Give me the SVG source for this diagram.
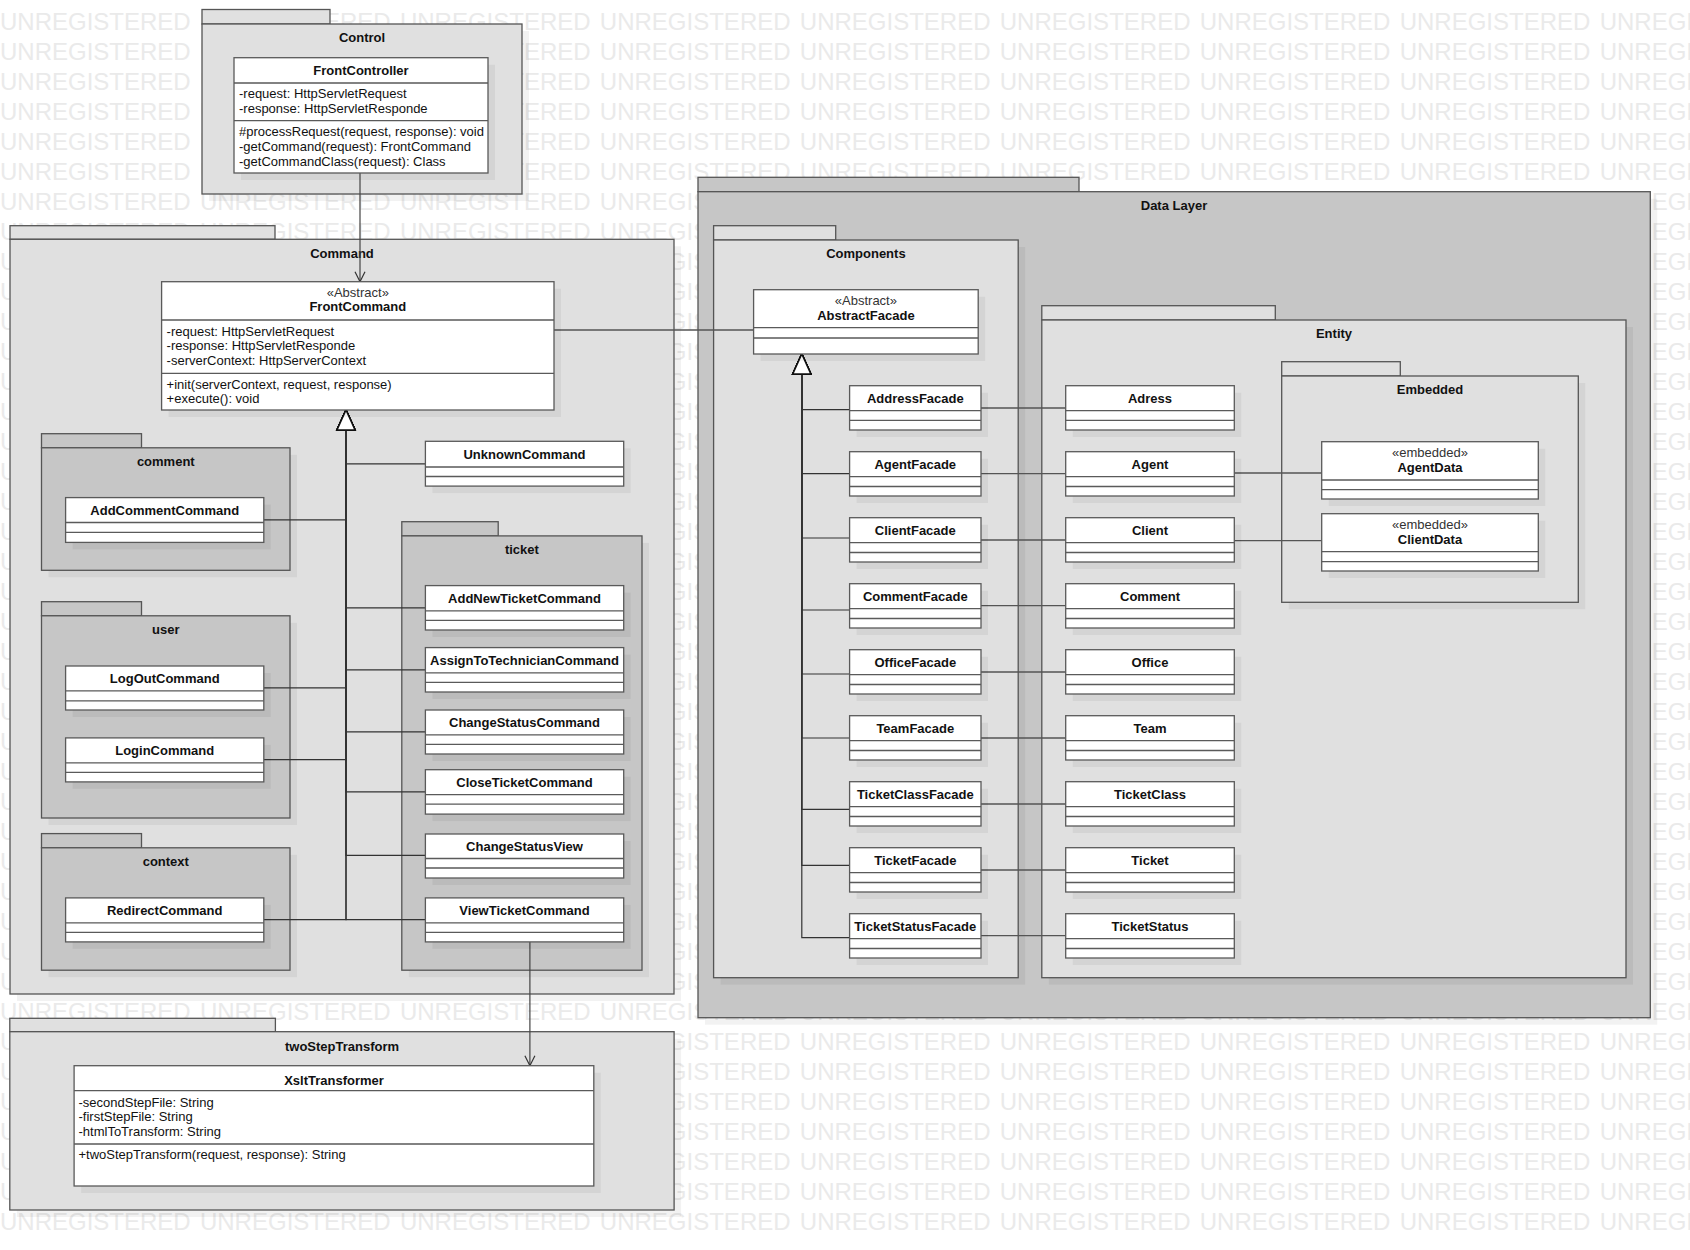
<svg xmlns="http://www.w3.org/2000/svg" xmlns:xlink="http://www.w3.org/1999/xlink" width="1690" height="1250" viewBox="0 0 1690 1250">
  <style>
    .wm { font-family: "Liberation Sans", Arial, sans-serif; font-size: 24px; fill: #eaeaea; word-spacing: 2.6px; }
    .pkg { fill: #e0e0e0; stroke: #555; stroke-width: 1.3; }
    .pkg.dk { fill: #c6c6c6; }
    .sh { fill: #000; fill-opacity: 0.05; stroke: none; }
    .cls { fill: #fff; stroke: #5a5a5a; stroke-width: 1.3; }
    .sep { stroke: #5a5a5a; stroke-width: 1.3; fill: none; }
    .t { font-family: "Liberation Sans", Arial, sans-serif; font-size: 13px; fill: #111; }
    .b { font-weight: bold; }
    .c { text-anchor: middle; }
    .st { fill: #333; }
    .edge { fill: none; stroke: #555; stroke-width: 1.3; }
    .gen { fill: none; stroke: #333; stroke-width: 1.2; marker-end: url(#tri); }
    .dep { fill: none; stroke: #444; stroke-width: 1.2; marker-end: url(#open); }
  </style>
  <defs>
    <marker id="tri" viewBox="0 0 20 18" refX="20" refY="9" markerWidth="20" markerHeight="18" orient="auto" markerUnits="userSpaceOnUse" overflow="visible">
      <path d="M0,0 L20,9 L0,18 Z" fill="#fff" stroke="#111" stroke-width="1.5"/>
    </marker>
    <marker id="open" viewBox="0 0 10 10" refX="10" refY="5" markerWidth="10" markerHeight="10" orient="auto" markerUnits="userSpaceOnUse" overflow="visible">
      <path d="M0,0 L10,5 L0,10" fill="none" stroke="#333" stroke-width="1.2"/>
    </marker>
    <text id="wmrow" class="wm" x="0" y="0">UNREGISTERED UNREGISTERED UNREGISTERED UNREGISTERED UNREGISTERED UNREGISTERED UNREGISTERED UNREGISTERED UNREGISTERED</text>
  </defs>

  <rect width="1690" height="1250" fill="#fff"/>

  <!-- evaluation watermark rows -->
  <g id="watermark">
    <use xlink:href="#wmrow" y="30"/><use xlink:href="#wmrow" y="60"/><use xlink:href="#wmrow" y="90"/><use xlink:href="#wmrow" y="120"/>
    <use xlink:href="#wmrow" y="150"/><use xlink:href="#wmrow" y="180"/><use xlink:href="#wmrow" y="210"/><use xlink:href="#wmrow" y="240"/>
    <use xlink:href="#wmrow" y="270"/><use xlink:href="#wmrow" y="300"/><use xlink:href="#wmrow" y="330"/><use xlink:href="#wmrow" y="360"/>
    <use xlink:href="#wmrow" y="390"/><use xlink:href="#wmrow" y="420"/><use xlink:href="#wmrow" y="450"/><use xlink:href="#wmrow" y="480"/>
    <use xlink:href="#wmrow" y="510"/><use xlink:href="#wmrow" y="540"/><use xlink:href="#wmrow" y="570"/><use xlink:href="#wmrow" y="600"/>
    <use xlink:href="#wmrow" y="630"/><use xlink:href="#wmrow" y="660"/><use xlink:href="#wmrow" y="690"/><use xlink:href="#wmrow" y="720"/>
    <use xlink:href="#wmrow" y="750"/><use xlink:href="#wmrow" y="780"/><use xlink:href="#wmrow" y="810"/><use xlink:href="#wmrow" y="840"/>
    <use xlink:href="#wmrow" y="870"/><use xlink:href="#wmrow" y="900"/><use xlink:href="#wmrow" y="930"/><use xlink:href="#wmrow" y="960"/>
    <use xlink:href="#wmrow" y="990"/><use xlink:href="#wmrow" y="1020"/><use xlink:href="#wmrow" y="1050"/><use xlink:href="#wmrow" y="1080"/>
    <use xlink:href="#wmrow" y="1110"/><use xlink:href="#wmrow" y="1140"/><use xlink:href="#wmrow" y="1170"/><use xlink:href="#wmrow" y="1200"/>
    <use xlink:href="#wmrow" y="1230"/>
  </g>

  <!-- packages: shadow, tab, body, name -->
  <g id="packages">
    <g id="pkg-control">
      <rect class="sh" x="209" y="31" width="320" height="170"/>
      <rect class="pkg" x="202" y="9.5" width="128" height="14.5"/>
      <rect class="pkg" x="202" y="24" width="320" height="170"/>
      <text class="t b c" x="362" y="42">Control</text>
    </g>
    <g id="pkg-command">
      <rect class="sh" x="17" y="246.3" width="664" height="754.7"/>
      <rect class="pkg" x="10" y="225.7" width="265" height="13.6"/>
      <rect class="pkg" x="10" y="239.3" width="664" height="754.7"/>
      <text class="t b c" x="342" y="258">Command</text>
    </g>
    <g id="pkg-comment">
      <rect class="sh" x="48.5" y="454.8" width="248.5" height="122.5"/>
      <rect class="pkg dk" x="41.5" y="433.7" width="100" height="14.1"/>
      <rect class="pkg dk" x="41.5" y="447.8" width="248.5" height="122.5"/>
      <text class="t b c" x="165.8" y="466">comment</text>
    </g>
    <g id="pkg-user">
      <rect class="sh" x="48.5" y="622.8" width="248.5" height="202.2"/>
      <rect class="pkg dk" x="41.5" y="601.7" width="100" height="14.1"/>
      <rect class="pkg dk" x="41.5" y="615.8" width="248.5" height="202.2"/>
      <text class="t b c" x="165.8" y="634">user</text>
    </g>
    <g id="pkg-context">
      <rect class="sh" x="48.5" y="854.8" width="248.5" height="122.4"/>
      <rect class="pkg dk" x="41.5" y="833.6" width="100" height="14.2"/>
      <rect class="pkg dk" x="41.5" y="847.8" width="248.5" height="122.4"/>
      <text class="t b c" x="165.8" y="866">context</text>
    </g>
    <g id="pkg-ticket">
      <rect class="sh" x="408.8" y="542.9" width="240.2" height="434.3"/>
      <rect class="pkg dk" x="401.8" y="521.7" width="96.4" height="14.2"/>
      <rect class="pkg dk" x="401.8" y="535.9" width="240.2" height="434.3"/>
      <text class="t b c" x="521.9" y="554">ticket</text>
    </g>
    <g id="pkg-twoStepTransform">
      <rect class="sh" x="16.8" y="1038.7" width="664.3" height="178.3"/>
      <rect class="pkg" x="9.8" y="1018.3" width="265.6" height="13.4"/>
      <rect class="pkg" x="9.8" y="1031.7" width="664.3" height="178.3"/>
      <text class="t b c" x="342" y="1050.6">twoStepTransform</text>
    </g>
    <g id="pkg-datalayer">
      <rect class="sh" x="705" y="198.7" width="952.3" height="826"/>
      <rect class="pkg dk" x="698" y="177.3" width="381" height="14.4"/>
      <rect class="pkg dk" x="698" y="191.7" width="952.3" height="826"/>
      <text class="t b c" x="1174" y="209.6">Data Layer</text>
    </g>
    <g id="pkg-components">
      <rect class="sh" x="720.6" y="247" width="304.6" height="737.7"/>
      <rect class="pkg" x="713.6" y="225.7" width="122.1" height="14.3"/>
      <rect class="pkg" x="713.6" y="240" width="304.6" height="737.7"/>
      <text class="t b c" x="865.9" y="258">Components</text>
    </g>
    <g id="pkg-entity">
      <rect class="sh" x="1048.8" y="327" width="584.2" height="657.7"/>
      <rect class="pkg" x="1041.8" y="305.7" width="233.5" height="14.3"/>
      <rect class="pkg" x="1041.8" y="320" width="584.2" height="657.7"/>
      <text class="t b c" x="1334" y="338">Entity</text>
    </g>
    <g id="pkg-embedded">
      <rect class="sh" x="1288.7" y="383" width="296.6" height="226.3"/>
      <rect class="pkg" x="1281.7" y="361.7" width="118.6" height="14.3"/>
      <rect class="pkg" x="1281.7" y="376" width="296.6" height="226.3"/>
      <text class="t b c" x="1430" y="394">Embedded</text>
    </g>
  </g>

  <!-- connectors -->
  <g id="connectors">
    <!-- dependencies -->
    <path class="dep" d="M360,173 V281.7"/>
    <path class="dep" d="M529.9,941.9 V1065.7"/>
    <!-- FrontCommand uses AbstractFacade -->
    <path class="edge" d="M554,330 H753.6"/>
    <!-- facades to entities -->
    <path class="edge" d="M981,408 H1065.7"/>
    <path class="edge" d="M981,473.7 H1065.7"/>
    <path class="edge" d="M981,540 H1065.7"/>
    <path class="edge" d="M981,605.7 H1065.7"/>
    <path class="edge" d="M981,672 H1065.7"/>
    <path class="edge" d="M981,738 H1065.7"/>
    <path class="edge" d="M981,804 H1065.7"/>
    <path class="edge" d="M981,870 H1065.7"/>
    <path class="edge" d="M981,935.7 H1065.7"/>
    <!-- entities to embedded data -->
    <path class="edge" d="M1234.3,473 H1321.7"/>
    <path class="edge" d="M1234.3,540.7 H1321.7"/>
    <!-- command subclasses generalize FrontCommand -->
    <path class="gen" d="M263.8,919.7 H346 V410"/>
    <path class="gen" d="M425.4,919.7 H346 V410"/>
    <path class="gen" d="M425.4,855.4 H346 V410"/>
    <path class="gen" d="M425.4,791.9 H346 V410"/>
    <path class="gen" d="M263.8,759.7 H346 V410"/>
    <path class="gen" d="M425.4,731.8 H346 V410"/>
    <path class="gen" d="M263.8,687.8 H346 V410"/>
    <path class="gen" d="M425.4,669.8 H346 V410"/>
    <path class="gen" d="M425.4,607.8 H346 V410"/>
    <path class="gen" d="M263.8,519.8 H346 V410"/>
    <path class="gen" d="M425.4,463.9 H346 V410"/>
    <!-- facades generalize AbstractFacade -->
    <path class="gen" d="M849.6,937.7 H801.8 V354"/>
    <path class="gen" d="M849.6,865.3 H801.8 V354"/>
    <path class="gen" d="M849.6,809.3 H801.8 V354"/>
    <path class="gen" d="M849.6,738 H801.8 V354"/>
    <path class="gen" d="M849.6,674 H801.8 V354"/>
    <path class="gen" d="M849.6,610 H801.8 V354"/>
    <path class="gen" d="M849.6,538 H801.8 V354"/>
    <path class="gen" d="M849.6,473.7 H801.8 V354"/>
    <path class="gen" d="M849.6,409.7 H801.8 V354"/>
  </g>

  <!-- classes -->
  <g id="classes">
    <g id="FrontController">
      <rect class="sh" x="241" y="64.7" width="254" height="115.3"/>
      <rect class="cls" x="234" y="57.7" width="254" height="115.3"/>
      <path class="sep" d="M234,83 H488 M234,120.7 H488"/>
      <text class="t b c" x="361" y="75">FrontController</text>
      <text class="t" x="239" y="98.3">-request: HttpServletRequest</text>
      <text class="t" x="239" y="113.3">-response: HttpServletResponde</text>
      <text class="t" x="239" y="136.3">#processRequest(request, response): void</text>
      <text class="t" x="239" y="151.3">-getCommand(request): FrontCommand</text>
      <text class="t" x="239" y="166.3">-getCommandClass(request): Class</text>
    </g>
    <g id="FrontCommand">
      <rect class="sh" x="168.6" y="288.7" width="392.4" height="128.3"/>
      <rect class="cls" x="161.6" y="281.7" width="392.4" height="128.3"/>
      <path class="sep" d="M161.6,320 H554 M161.6,373.3 H554"/>
      <text class="t c st" x="357.8" y="297">«Abstract»</text>
      <text class="t b c" x="357.8" y="311.3">FrontCommand</text>
      <text class="t" x="166.6" y="335.6">-request: HttpServletRequest</text>
      <text class="t" x="166.6" y="350.4">-response: HttpServletResponde</text>
      <text class="t" x="166.6" y="365.3">-serverContext: HttpServerContext</text>
      <text class="t" x="166.6" y="388.6">+init(serverContext, request, response)</text>
      <text class="t" x="166.6" y="403.3">+execute(): void</text>
    </g>
    <g id="AddCommentCommand">
      <rect class="sh" x="72.6" y="504.6" width="198.2" height="44.8"/>
      <rect class="cls" x="65.6" y="497.6" width="198.2" height="44.8"/>
      <path class="sep" d="M65.6,522.5 H263.8 M65.6,532.4 H263.8"/>
      <text class="t b c" x="164.7" y="515.2">AddCommentCommand</text>
    </g>
    <g id="LogOutCommand">
      <rect class="sh" x="72.6" y="673" width="198.2" height="44"/>
      <rect class="cls" x="65.6" y="666" width="198.2" height="44"/>
      <path class="sep" d="M65.6,690.9 H263.8 M65.6,700.8 H263.8"/>
      <text class="t b c" x="164.7" y="683.3">LogOutCommand</text>
    </g>
    <g id="LoginCommand">
      <rect class="sh" x="72.6" y="744.9" width="198.2" height="44"/>
      <rect class="cls" x="65.6" y="737.9" width="198.2" height="44"/>
      <path class="sep" d="M65.6,762.8 H263.8 M65.6,772.4 H263.8"/>
      <text class="t b c" x="164.7" y="755.2">LoginCommand</text>
    </g>
    <g id="RedirectCommand">
      <rect class="sh" x="72.6" y="904.9" width="198.2" height="44"/>
      <rect class="cls" x="65.6" y="897.9" width="198.2" height="44"/>
      <path class="sep" d="M65.6,922.8 H263.8 M65.6,932.3 H263.8"/>
      <text class="t b c" x="164.7" y="915.2">RedirectCommand</text>
    </g>
    <g id="UnknownCommand">
      <rect class="sh" x="432.4" y="448.3" width="198.3" height="44.8"/>
      <rect class="cls" x="425.4" y="441.3" width="198.3" height="44.8"/>
      <path class="sep" d="M425.4,467 H623.7 M425.4,476.5 H623.7"/>
      <text class="t b c" x="524.5" y="458.8">UnknownCommand</text>
    </g>
    <g id="AddNewTicketCommand">
      <rect class="sh" x="432.4" y="592.6" width="198.3" height="44.4"/>
      <rect class="cls" x="425.4" y="585.6" width="198.3" height="44.4"/>
      <path class="sep" d="M425.4,610.9 H623.7 M425.4,620.4 H623.7"/>
      <text class="t b c" x="524.5" y="602.9">AddNewTicketCommand</text>
    </g>
    <g id="AssignToTechnicianCommand">
      <rect class="sh" x="432.4" y="654.6" width="198.3" height="44.4"/>
      <rect class="cls" x="425.4" y="647.6" width="198.3" height="44.4"/>
      <path class="sep" d="M425.4,672.9 H623.7 M425.4,682.4 H623.7"/>
      <text class="t b c" x="524.5" y="665.2">AssignToTechnicianCommand</text>
    </g>
    <g id="ChangeStatusCommand">
      <rect class="sh" x="432.4" y="717" width="198.3" height="44"/>
      <rect class="cls" x="425.4" y="710" width="198.3" height="44"/>
      <path class="sep" d="M425.4,734.9 H623.7 M425.4,744.4 H623.7"/>
      <text class="t b c" x="524.5" y="727.3">ChangeStatusCommand</text>
    </g>
    <g id="CloseTicketCommand">
      <rect class="sh" x="432.4" y="776.7" width="198.3" height="44.4"/>
      <rect class="cls" x="425.4" y="769.7" width="198.3" height="44.4"/>
      <path class="sep" d="M425.4,794.6 H623.7 M425.4,804.1 H623.7"/>
      <text class="t b c" x="524.5" y="787">CloseTicketCommand</text>
    </g>
    <g id="ChangeStatusView">
      <rect class="sh" x="432.4" y="841" width="198.3" height="44"/>
      <rect class="cls" x="425.4" y="834" width="198.3" height="44"/>
      <path class="sep" d="M425.4,858.5 H623.7 M425.4,868 H623.7"/>
      <text class="t b c" x="524.5" y="850.9">ChangeStatusView</text>
    </g>
    <g id="ViewTicketCommand">
      <rect class="sh" x="432.4" y="904.9" width="198.3" height="44"/>
      <rect class="cls" x="425.4" y="897.9" width="198.3" height="44"/>
      <path class="sep" d="M425.4,922.8 H623.7 M425.4,932.3 H623.7"/>
      <text class="t b c" x="524.5" y="915.2">ViewTicketCommand</text>
    </g>
    <g id="XsltTransformer">
      <rect class="sh" x="81.1" y="1072.7" width="519.7" height="120.3"/>
      <rect class="cls" x="74.1" y="1065.7" width="519.7" height="120.3"/>
      <path class="sep" d="M74.1,1090.7 H593.8 M74.1,1144 H593.8"/>
      <text class="t b c" x="334" y="1084.6">XsltTransformer</text>
      <text class="t" x="78.5" y="1106.6">-secondStepFile: String</text>
      <text class="t" x="78.5" y="1121.3">-firstStepFile: String</text>
      <text class="t" x="78.5" y="1136.3">-htmlToTransform: String</text>
      <text class="t" x="78.5" y="1159.3">+twoStepTransform(request, response): String</text>
    </g>
    <g id="AbstractFacade">
      <rect class="sh" x="760.6" y="296.7" width="224.6" height="64.3"/>
      <rect class="cls" x="753.6" y="289.7" width="224.6" height="64.3"/>
      <path class="sep" d="M753.6,327.7 H978.2 M753.6,338 H978.2"/>
      <text class="t c st" x="865.9" y="305.3">«Abstract»</text>
      <text class="t b c" x="865.9" y="320">AbstractFacade</text>
    </g>
    <g id="AddressFacade">
      <rect class="sh" x="856.6" y="392.7" width="131.4" height="44.3"/>
      <rect class="cls" x="849.6" y="385.7" width="131.4" height="44.3"/>
      <path class="sep" d="M849.6,410.7 H981 M849.6,420.3 H981"/>
      <text class="t b c" x="915.3" y="403.3">AddressFacade</text>
    </g>
    <g id="AgentFacade">
      <rect class="sh" x="856.6" y="458.7" width="131.4" height="44.3"/>
      <rect class="cls" x="849.6" y="451.7" width="131.4" height="44.3"/>
      <path class="sep" d="M849.6,476.7 H981 M849.6,486.5 H981"/>
      <text class="t b c" x="915.3" y="469.3">AgentFacade</text>
    </g>
    <g id="ClientFacade">
      <rect class="sh" x="856.6" y="524.7" width="131.4" height="44.3"/>
      <rect class="cls" x="849.6" y="517.7" width="131.4" height="44.3"/>
      <path class="sep" d="M849.6,542.7 H981 M849.6,552.5 H981"/>
      <text class="t b c" x="915.3" y="535.3">ClientFacade</text>
    </g>
    <g id="CommentFacade">
      <rect class="sh" x="856.6" y="590.7" width="131.4" height="44.3"/>
      <rect class="cls" x="849.6" y="583.7" width="131.4" height="44.3"/>
      <path class="sep" d="M849.6,608.7 H981 M849.6,618.5 H981"/>
      <text class="t b c" x="915.3" y="601.3">CommentFacade</text>
    </g>
    <g id="OfficeFacade">
      <rect class="sh" x="856.6" y="656.7" width="131.4" height="44.3"/>
      <rect class="cls" x="849.6" y="649.7" width="131.4" height="44.3"/>
      <path class="sep" d="M849.6,674.7 H981 M849.6,684.5 H981"/>
      <text class="t b c" x="915.3" y="667.3">OfficeFacade</text>
    </g>
    <g id="TeamFacade">
      <rect class="sh" x="856.6" y="722.7" width="131.4" height="44.3"/>
      <rect class="cls" x="849.6" y="715.7" width="131.4" height="44.3"/>
      <path class="sep" d="M849.6,740.7 H981 M849.6,750.5 H981"/>
      <text class="t b c" x="915.3" y="733.3">TeamFacade</text>
    </g>
    <g id="TicketClassFacade">
      <rect class="sh" x="856.6" y="788.7" width="131.4" height="44.3"/>
      <rect class="cls" x="849.6" y="781.7" width="131.4" height="44.3"/>
      <path class="sep" d="M849.6,806.7 H981 M849.6,816.5 H981"/>
      <text class="t b c" x="915.3" y="799.3">TicketClassFacade</text>
    </g>
    <g id="TicketFacade">
      <rect class="sh" x="856.6" y="854.7" width="131.4" height="44.3"/>
      <rect class="cls" x="849.6" y="847.7" width="131.4" height="44.3"/>
      <path class="sep" d="M849.6,872.7 H981 M849.6,882.5 H981"/>
      <text class="t b c" x="915.3" y="865.3">TicketFacade</text>
    </g>
    <g id="TicketStatusFacade">
      <rect class="sh" x="856.6" y="920.7" width="131.4" height="44.3"/>
      <rect class="cls" x="849.6" y="913.7" width="131.4" height="44.3"/>
      <path class="sep" d="M849.6,938.7 H981 M849.6,948.5 H981"/>
      <text class="t b c" x="915.3" y="931.3">TicketStatusFacade</text>
    </g>
    <g id="Adress">
      <rect class="sh" x="1072.7" y="392.7" width="168.6" height="44.3"/>
      <rect class="cls" x="1065.7" y="385.7" width="168.6" height="44.3"/>
      <path class="sep" d="M1065.7,410.7 H1234.3 M1065.7,420.3 H1234.3"/>
      <text class="t b c" x="1150" y="403.3">Adress</text>
    </g>
    <g id="Agent">
      <rect class="sh" x="1072.7" y="458.7" width="168.6" height="44.3"/>
      <rect class="cls" x="1065.7" y="451.7" width="168.6" height="44.3"/>
      <path class="sep" d="M1065.7,476.7 H1234.3 M1065.7,486.5 H1234.3"/>
      <text class="t b c" x="1150" y="469.3">Agent</text>
    </g>
    <g id="Client">
      <rect class="sh" x="1072.7" y="524.7" width="168.6" height="44.3"/>
      <rect class="cls" x="1065.7" y="517.7" width="168.6" height="44.3"/>
      <path class="sep" d="M1065.7,542.7 H1234.3 M1065.7,552.5 H1234.3"/>
      <text class="t b c" x="1150" y="535.3">Client</text>
    </g>
    <g id="Comment">
      <rect class="sh" x="1072.7" y="590.7" width="168.6" height="44.3"/>
      <rect class="cls" x="1065.7" y="583.7" width="168.6" height="44.3"/>
      <path class="sep" d="M1065.7,608.7 H1234.3 M1065.7,618.5 H1234.3"/>
      <text class="t b c" x="1150" y="601.3">Comment</text>
    </g>
    <g id="Office">
      <rect class="sh" x="1072.7" y="656.7" width="168.6" height="44.3"/>
      <rect class="cls" x="1065.7" y="649.7" width="168.6" height="44.3"/>
      <path class="sep" d="M1065.7,674.7 H1234.3 M1065.7,684.5 H1234.3"/>
      <text class="t b c" x="1150" y="667.3">Office</text>
    </g>
    <g id="Team">
      <rect class="sh" x="1072.7" y="722.7" width="168.6" height="44.3"/>
      <rect class="cls" x="1065.7" y="715.7" width="168.6" height="44.3"/>
      <path class="sep" d="M1065.7,740.7 H1234.3 M1065.7,750.5 H1234.3"/>
      <text class="t b c" x="1150" y="733.3">Team</text>
    </g>
    <g id="TicketClass">
      <rect class="sh" x="1072.7" y="788.7" width="168.6" height="44.3"/>
      <rect class="cls" x="1065.7" y="781.7" width="168.6" height="44.3"/>
      <path class="sep" d="M1065.7,806.7 H1234.3 M1065.7,816.5 H1234.3"/>
      <text class="t b c" x="1150" y="799.3">TicketClass</text>
    </g>
    <g id="Ticket">
      <rect class="sh" x="1072.7" y="854.7" width="168.6" height="44.3"/>
      <rect class="cls" x="1065.7" y="847.7" width="168.6" height="44.3"/>
      <path class="sep" d="M1065.7,872.7 H1234.3 M1065.7,882.5 H1234.3"/>
      <text class="t b c" x="1150" y="865.3">Ticket</text>
    </g>
    <g id="TicketStatus">
      <rect class="sh" x="1072.7" y="920.7" width="168.6" height="44.3"/>
      <rect class="cls" x="1065.7" y="913.7" width="168.6" height="44.3"/>
      <path class="sep" d="M1065.7,938.7 H1234.3 M1065.7,948.5 H1234.3"/>
      <text class="t b c" x="1150" y="931.3">TicketStatus</text>
    </g>
    <g id="AgentData">
      <rect class="sh" x="1328.7" y="448.7" width="216.6" height="57.3"/>
      <rect class="cls" x="1321.7" y="441.7" width="216.6" height="57.3"/>
      <path class="sep" d="M1321.7,480 H1538.3 M1321.7,489.7 H1538.3"/>
      <text class="t c st" x="1430" y="457.3">«embedded»</text>
      <text class="t b c" x="1430" y="472">AgentData</text>
    </g>
    <g id="ClientData">
      <rect class="sh" x="1328.7" y="520.7" width="216.6" height="57.3"/>
      <rect class="cls" x="1321.7" y="513.7" width="216.6" height="57.3"/>
      <path class="sep" d="M1321.7,551.7 H1538.3 M1321.7,561.7 H1538.3"/>
      <text class="t c st" x="1430" y="529">«embedded»</text>
      <text class="t b c" x="1430" y="544">ClientData</text>
    </g>
  </g>
</svg>
